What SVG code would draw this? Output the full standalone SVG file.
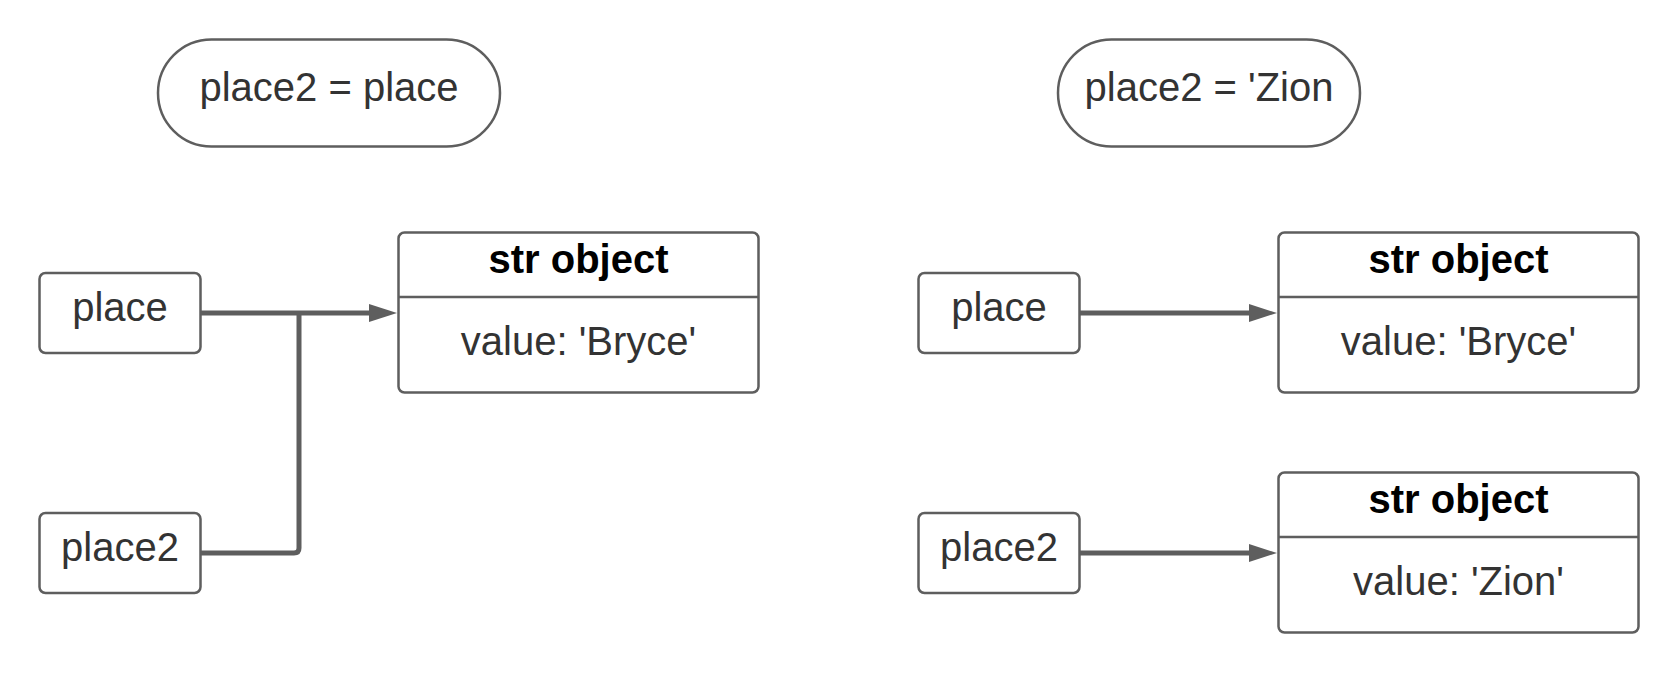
<svg xmlns="http://www.w3.org/2000/svg" width="1679" height="673" viewBox="0 0 1679 673">
<style>
.box{fill:#fff;stroke:#5e5e5e;stroke-width:2.5}
.t{font-family:"Liberation Sans",Arial,sans-serif;font-size:40px;fill:#333;text-anchor:middle}
.b{font-family:"Liberation Sans",Arial,sans-serif;font-size:40px;font-weight:bold;fill:#000;text-anchor:middle}
.c{fill:none;stroke:#5e5e5e;stroke-width:5;stroke-linejoin:round}
</style>
<defs>
<marker id="ah" markerUnits="userSpaceOnUse" markerWidth="32" markerHeight="22" viewBox="0 0 32 22" refX="1" refY="11" orient="auto">
<path d="M0,2 L28,11 L0,20 Z" fill="#5e5e5e"/>
</marker>
</defs>
<rect width="1679" height="673" fill="#fff"/>
<g id="pill-left">
<rect class="box" x="158" y="39.5" width="342" height="107" rx="53.5"/>
<text class="t" x="329" y="101">place2 = place</text>
</g>
<g id="pill-right">
<rect class="box" x="1058" y="39.5" width="302" height="107" rx="53.5"/>
<text class="t" x="1209" y="101">place2 = 'Zion</text>
</g>
<g id="place-left">
<rect class="box" x="39.5" y="273" width="161" height="80" rx="6"/>
<text class="t" x="120" y="321">place</text>
</g>
<g id="place2-left">
<rect class="box" x="39.5" y="513" width="161" height="80" rx="6"/>
<text class="t" x="120" y="561">place2</text>
</g>
<g id="str-left">
<rect class="box" x="398.5" y="232.5" width="360" height="160" rx="6"/>
<line x1="398.5" y1="297" x2="758.5" y2="297" stroke="#5e5e5e" stroke-width="2.5"/>
<text class="b" x="578.5" y="273">str object</text>
<text class="t" x="578.5" y="355">value: 'Bryce'</text>
</g>
<g id="place-right">
<rect class="box" x="918.5" y="273" width="161" height="80" rx="6"/>
<text class="t" x="999" y="321">place</text>
</g>
<g id="place2-right">
<rect class="box" x="918.5" y="513" width="161" height="80" rx="6"/>
<text class="t" x="999" y="561">place2</text>
</g>
<g id="str-right-1">
<rect class="box" x="1278.5" y="232.5" width="360" height="160" rx="6"/>
<line x1="1278.5" y1="297" x2="1638.5" y2="297" stroke="#5e5e5e" stroke-width="2.5"/>
<text class="b" x="1458.5" y="273">str object</text>
<text class="t" x="1458.5" y="355">value: 'Bryce'</text>
</g>
<g id="str-right-2">
<rect class="box" x="1278.5" y="472.5" width="360" height="160" rx="6"/>
<line x1="1278.5" y1="537" x2="1638.5" y2="537" stroke="#5e5e5e" stroke-width="2.5"/>
<text class="b" x="1458.5" y="513">str object</text>
<text class="t" x="1458.5" y="595">value: 'Zion'</text>
</g>
<g id="connectors">
<path class="c" d="M201,313 H370" marker-end="url(#ah)"/>
<path class="c" d="M201,553 H294 Q299,553 299,548 V313"/>
<path class="c" d="M1080,313 H1250" marker-end="url(#ah)"/>
<path class="c" d="M1080,553 H1250" marker-end="url(#ah)"/>
</g>
</svg>
